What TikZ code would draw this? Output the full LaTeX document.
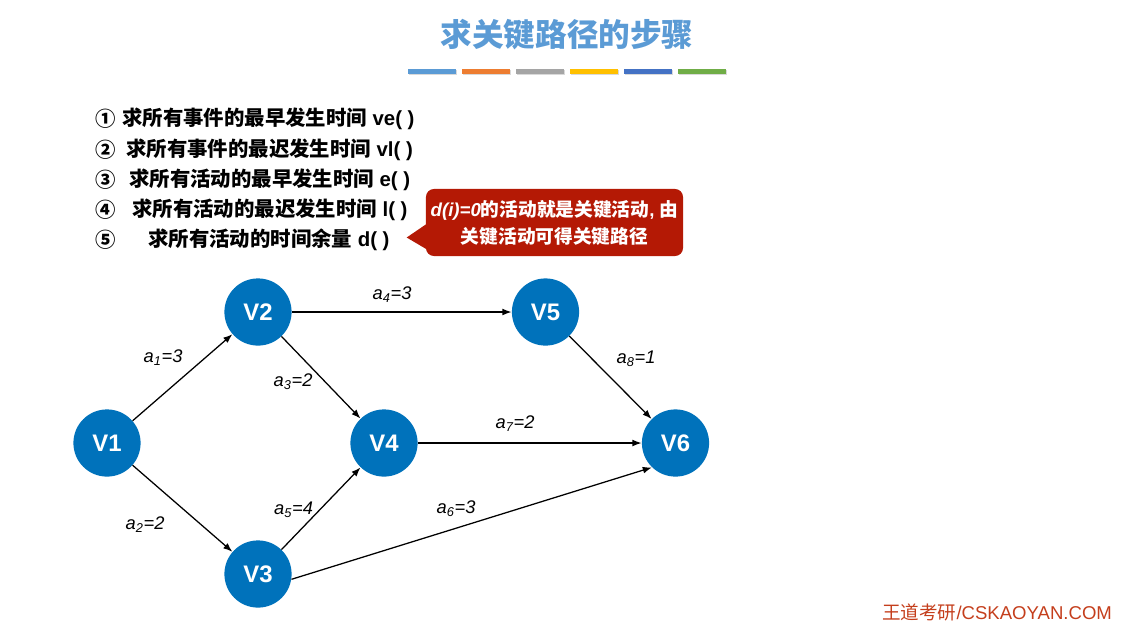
\documentclass[tikz,border=0pt]{standalone}
\usepackage{fontspec}
\setmainfont{Liberation Sans}
\newfontfamily\cjk{Noto Sans CJK SC}
\definecolor{nodeblue}{RGB}{0, 114, 187}
\definecolor{titleblue}{RGB}{91, 155, 213}
\definecolor{notered}{RGB}{180, 25, 5}
\definecolor{footred}{RGB}{196, 62, 28}
\definecolor{barblue}{RGB}{91, 155, 213}
\definecolor{barorange}{RGB}{237, 125, 49}
\definecolor{bargray}{RGB}{165, 165, 165}
\definecolor{baryellow}{RGB}{255, 192, 0}
\definecolor{bardarkblue}{RGB}{68, 114, 196}
\definecolor{bargreen}{RGB}{112, 173, 71}
\usetikzlibrary{arrows.meta, positioning, calc}

\begin{document}
\begin{tikzpicture}[x=0.025cm, y=-0.025cm,
  vtx/.style={circle, fill=nodeblue, minimum size=1.68cm, inner sep=0pt, text=white, font=\fontsize{17}{20}\selectfont\bfseries},
  act/.style={-{Latex[length=2.3mm, width=1.7mm]}, line width=0.9pt},
  wt/.style={inner sep=0pt, font=\fontsize{13}{15}\selectfont\itshape},
  stepnum/.style={anchor=west, inner sep=0pt, font=\fontsize{14.5}{17}\selectfont\cjk\bfseries},
  steptext/.style={anchor=west, inner sep=0pt, font=\fontsize{14.5}{17}\selectfont\bfseries},
  note/.style={fill=notered, rounded corners=0.2cm, text=white, minimum width=6.425cm, minimum height=1.675cm, align=center, inner sep=0pt, font=\fontsize{13.3}{19.2}\selectfont\bfseries}
]
  \useasboundingbox (0,0) rectangle (1136,627);

  \node[text=titleblue, font=\fontsize{22.5}{26}\selectfont\cjk\bfseries] (title) at (567,35) {求关键路径的步骤};
  \foreach \c [count=\i from 0] in {barblue, barorange, bargray, baryellow, bardarkblue, bargreen} {
    \fill[black!15] (409+54*\i, 70) rectangle ++(48,5);
    \fill[\c] (408+54*\i, 68.5) rectangle ++(48,5);
  }

  \foreach \num/\sx/\txt/\fn [count=\i] in {①/122/求所有事件的最早发生时间/ve, ②/126/求所有事件的最迟发生时间/vl, ③/129/求所有活动的最早发生时间/e, ④/132/求所有活动的最迟发生时间/l, ⑤/148/求所有活动的时间余量/d} {
    \node[stepnum] (n\i) at (95, 119+30.3*\i-30.3) {\num};
    \node[steptext] (s\i) at (\sx, 119+30.3*\i-30.3) {{\cjk\bfseries \txt} \fn( )};
  }

  \node[note] (tip) at (554.5,222.5) {\textit{d(i)=0}{\cjk\bfseries 的活动就是关键活动}, {\cjk\bfseries 由}\\{\cjk\bfseries 关键活动可得关键路径}};
  \fill[notered] ($(tip.west)+(3,0)$) -- ($(tip.west)+(-19,15)$) -- ($(tip.west)+(3,28)$) -- cycle;

  \node[vtx] (v1) at (107,443) {V1};
  \node[vtx] (v2) at (258,312) {V2};
  \node[vtx] (v3) at (258,574) {V3};
  \node[vtx] (v4) at (384,443) {V4};
  \node[vtx] (v5) at (545.5,312) {V5};
  \node[vtx] (v6) at (675.5,443) {V6};

  \draw[act] (v1) -- (v2);
  \draw[act] (v1) -- (v3);
  \draw[act] (v2) -- (v4);
  \draw[act] (v2) -- (v5);
  \draw[act] (v3) -- (v4);
  \draw[act] (v3.-9) -- (v6.-134);
  \draw[act] (v4) -- (v6);
  \draw[act] (v5) -- (v6);

  \node[wt] (w1) at (163,358) {a\textsubscript{1}=3};
  \node[wt] (w2) at (145,525) {a\textsubscript{2}=2};
  \node[wt] (w3) at (293,382) {a\textsubscript{3}=2};
  \node[wt] (w4) at (392,295) {a\textsubscript{4}=3};
  \node[wt] (w5) at (293.5,510) {a\textsubscript{5}=4};
  \node[wt] (w6) at (456,509) {a\textsubscript{6}=3};
  \node[wt] (w7) at (515,424) {a\textsubscript{7}=2};
  \node[wt] (w8) at (636,359) {a\textsubscript{8}=1};

  \node[anchor=west, inner sep=0pt, text=footred, font=\fontsize{13.2}{15}\selectfont] (foot) at (882,612) {{\cjk 王道考研}/CSKAOYAN.COM};
\end{tikzpicture}
\end{document}
